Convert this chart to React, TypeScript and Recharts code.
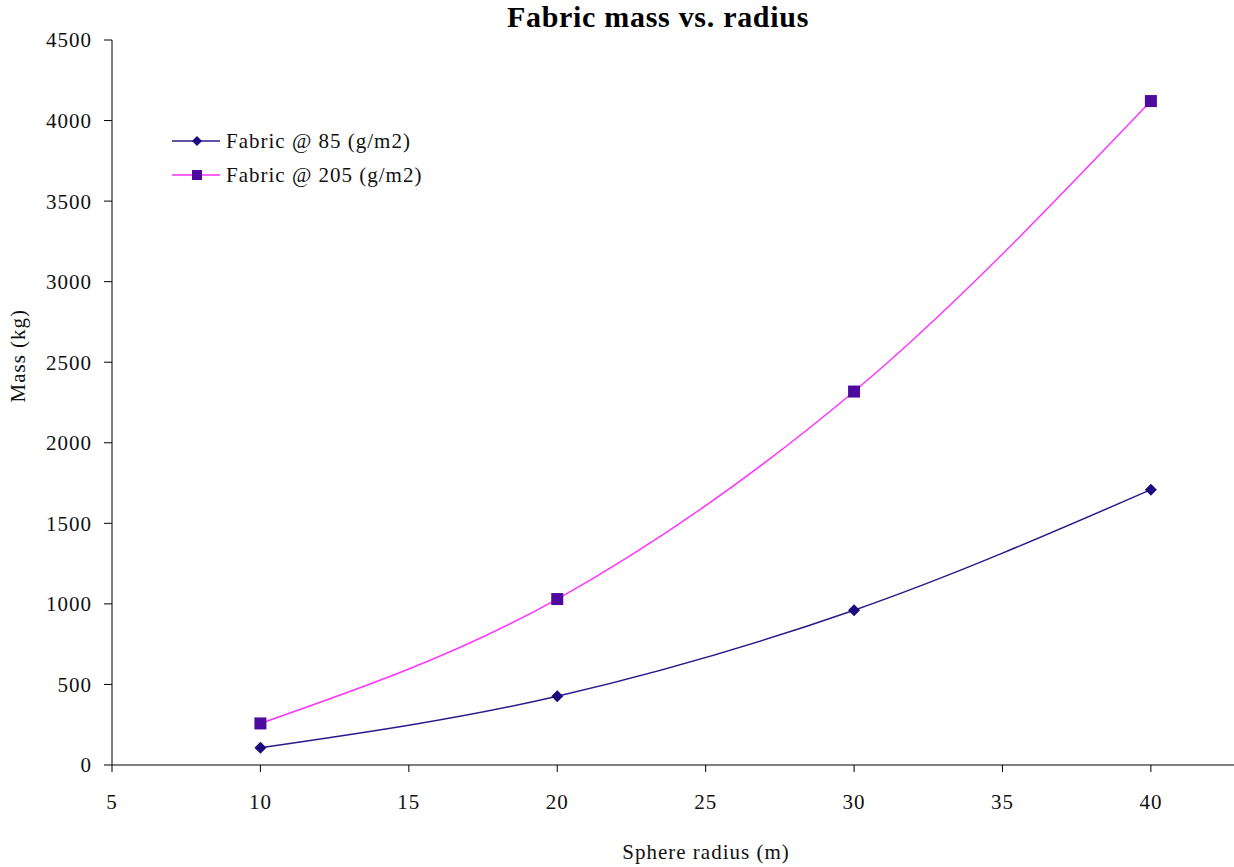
import React from "react";
import { LineChart, Line, XAxis, YAxis } from "recharts";

const radius = [10, 20, 30, 40];
const mass85 = [107, 427, 961, 1709];
const mass205 = [258, 1030, 2318, 4121];
const xTicks = [5, 10, 15, 20, 25, 30, 35, 40];
const yTicks = [0, 500, 1000, 1500, 2000, 2500, 3000, 3500, 4000, 4500];

const data = radius.map((r, i) => ({ r, m85: mass85[i], m205: mass205[i] }));

const FONT = '"Liberation Serif", "Times New Roman", serif';
const C85 = "#2B1A8C";
const C85_MARK = "#1E0A7C";
const C205 = "#FF33FF";
const C205_MARK = "#4E0A9E";

const textStyle = { fill: "#111", fontFamily: FONT, fontSize: 21, letterSpacing: 1 };

const Diamond = (props: any) => {
  const { cx, cy } = props;
  if (cx == null || cy == null) return null;
  const s = 6;
  return (
    <path
      d={`M${cx},${cy - s} L${cx + s},${cy} L${cx},${cy + s} L${cx - s},${cy} Z`}
      fill={C85_MARK}
    />
  );
};

const Square = (props: any) => {
  const { cx, cy } = props;
  if (cx == null || cy == null) return null;
  const s = 6;
  return <rect x={cx - s} y={cy - s} width={2 * s} height={2 * s} fill={C205_MARK} />;
};

const LegendBox = () => (
  <div
    style={{
      position: "absolute",
      top: 124,
      left: 172,
      fontFamily: FONT,
      fontSize: 21,
      letterSpacing: 1,
      color: "#111",
      lineHeight: "34px",
    }}
  >
    <div style={{ display: "flex", alignItems: "center" }}>
      <svg width={50} height={16}>
        <line x1={0} y1={8} x2={48} y2={8} stroke={C85} strokeWidth={1.5} />
        <path d="M25,3 L30,8 L25,13 L20,8 Z" fill={C85_MARK} />
      </svg>
      <span style={{ marginLeft: 4 }}>Fabric @ 85 (g/m2)</span>
    </div>
    <div style={{ display: "flex", alignItems: "center" }}>
      <svg width={50} height={16}>
        <line x1={0} y1={8} x2={48} y2={8} stroke={C205} strokeWidth={1.5} />
        <rect x={20} y={3} width={10} height={10} fill={C205_MARK} />
      </svg>
      <span style={{ marginLeft: 4 }}>Fabric @ 205 (g/m2)</span>
    </div>
  </div>
);

export default function App() {
  return (
    <div style={{ position: "absolute", left: 0, top: 0, width: 1234, height: 867, background: "#fff" }}>
      <div
        style={{
          position: "absolute",
          top: 0,
          left: 0,
          width: 1316,
          textAlign: "center",
          fontFamily: FONT,
          fontWeight: "bold",
          fontSize: 30,
          letterSpacing: 0.7,
          lineHeight: "34px",
          color: "#000",
        }}
      >
        Fabric mass vs. radius
      </div>
      <LineChart
        width={1234}
        height={867}
        data={data}
        margin={{ top: 40, right: 0, bottom: 0, left: 52 }}
      >
        <XAxis
          dataKey="r"
          type="number"
          domain={[5, 42.8]}
          ticks={xTicks}
          allowDataOverflow
          tickSize={7}
          tickMargin={22}
          height={102}
          stroke="#000"
          tick={textStyle}
          label={{
            value: "Sphere radius (m)",
            position: "insideBottom",
            offset: 8,
            dx: 33,
            ...textStyle,
          }}
        />
        <YAxis
          type="number"
          domain={[0, 4500]}
          ticks={yTicks}
          width={60}
          tickSize={8}
          tickMargin={12}
          stroke="#000"
          tick={textStyle}
          label={{
            value: "Mass (kg)",
            angle: -90,
            position: "insideLeft",
            offset: -34,
            ...textStyle,
          }}
        />
        <Line
          type="monotone"
          dataKey="m85"
          stroke={C85}
          strokeWidth={1.5}
          dot={<Diamond />}
          isAnimationActive={false}
        />
        <Line
          type="monotone"
          dataKey="m205"
          stroke={C205}
          strokeWidth={1.5}
          dot={<Square />}
          isAnimationActive={false}
        />
      </LineChart>
      <LegendBox />
    </div>
  );
}
